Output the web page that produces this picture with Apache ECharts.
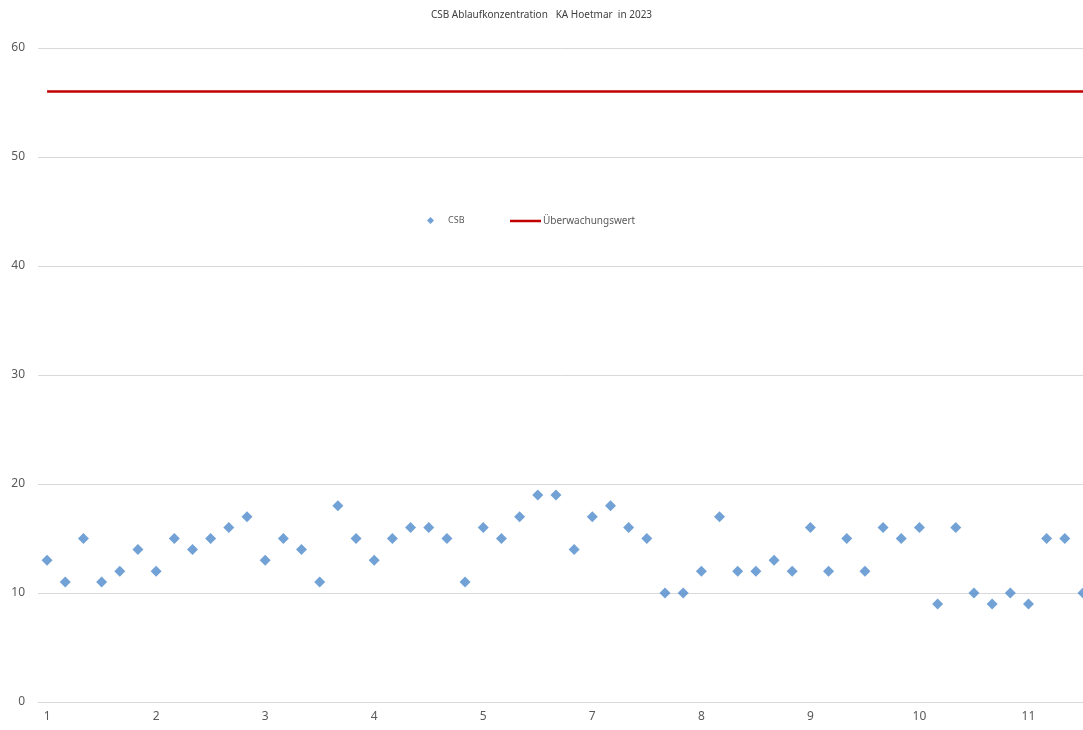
<!DOCTYPE html>
<html>
<head>
<meta charset="utf-8">
<script src="https://cdn.jsdelivr.net/npm/echarts@6/dist/echarts.min.js"></script>
<style>html,body{margin:0;padding:0;background:#fff}#c{width:1083px;height:730px}</style>
</head>
<body>
<div id="c"></div>
<script>
const TITLE = 'CSB Ablaufkonzentration   KA Hoetmar  in 2023';
const MONTH_LABELS = ['1','2','3','4','5','7','8','9','10','11'];
const POINTS_PER_LABEL = 6;
const CSB = [13,11,15,11,12,14, 12,15,14,15,16,17, 13,15,14,11,18,15, 13,15,16,16,15,11,
             16,15,17,19,19,14, 17,18,16,15,10,10, 12,17,12,12,13,12, 16,12,15,12,16,15,
             16,9,16,10,9,10, 9,15,15,10];
const LIMIT = 56;
const Y_TICKS = {min:0, max:60, interval:10};

const labelPositions = MONTH_LABELS.map((l,i) => i * POINTS_PER_LABEL);
const labelMap = {};
labelPositions.forEach((p,i) => { labelMap[p] = MONTH_LABELS[i]; });
const csbData = CSB.map((v,i) => [i, v]);
const limitData = [[0, LIMIT], [CSB.length - 1, LIMIT]];

const chart = echarts.init(document.getElementById('c'), null, {renderer:'canvas'});
const font = 'Noto Sans';
chart.setOption({
  animation:false,
  backgroundColor:'#fff',
  title:{text:TITLE, left:'center', top:5,
    textStyle:{fontSize:10, fontWeight:'normal', color:'#404040', fontFamily:font}},
  legend:[
    {data:['CSB'], left:422, top:211, icon:'diamond', itemWidth:7, itemHeight:7,
      textStyle:{fontSize:9, color:'#595959', fontFamily:font, padding:[0,0,0,9]}},
    {data:['Überwachungswert'], left:505, top:211, icon:'rect', itemWidth:31, itemHeight:2.5,
      textStyle:{fontSize:10, color:'#595959', fontFamily:font, padding:[0,0,0,-3]}}
  ],
  grid:{left:38, right:0, top:48, bottom:28, containLabel:false},
  xAxis:{type:'value', min:-0.5, max:CSB.length - 1,
    splitLine:{show:false},
    axisLine:{show:true, onZero:false, lineStyle:{color:'#d9d9d9'}}, axisTick:{show:false},
    axisLabel:{customValues:labelPositions, formatter:v => labelMap[v] || '',
      color:'#595959', fontSize:12, fontFamily:font, margin:9}},
  yAxis:{type:'value', min:Y_TICKS.min, max:Y_TICKS.max, interval:Y_TICKS.interval,
    axisLine:{show:false}, axisTick:{show:false},
    splitLine:{lineStyle:{color:'#d9d9d9'}},
    axisLabel:{color:'#595959', fontSize:12, fontFamily:font, margin:13}},
  series:[
    {name:'CSB', type:'scatter', data:csbData, symbol:'diamond', symbolSize:11,
      itemStyle:{color:'#4F8BCB'}, clip:false},
    {name:'Überwachungswert', type:'line', data:limitData, symbol:'none',
      lineStyle:{color:'#C00000', width:2.5}, itemStyle:{color:'#C00000'}}
  ]
});
</script>
</body>
</html>
